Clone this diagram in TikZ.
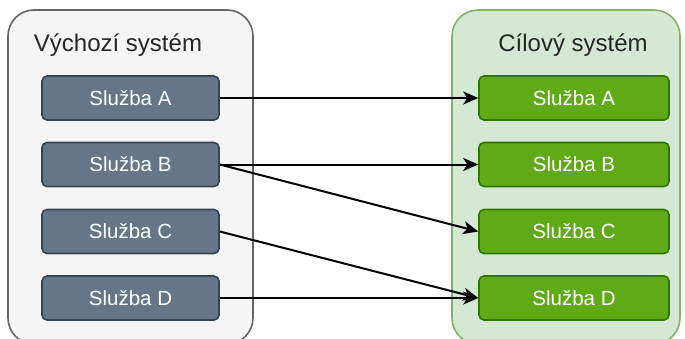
\documentclass[tikz,border=0pt]{standalone}
\usepackage{fontspec}
\setmainfont{Liberation Sans}
\usetikzlibrary{arrows.meta}
\definecolor{contL}{HTML}{F5F5F5}
\definecolor{contLd}{HTML}{666666}
\definecolor{boxL}{HTML}{647687}
\definecolor{boxLd}{HTML}{314354}
\definecolor{contR}{HTML}{D5E8D4}
\definecolor{contRd}{HTML}{82B366}
\definecolor{boxR}{HTML}{60A917}
\definecolor{boxRd}{HTML}{2D7600}
\tikzset{
  container/.style={rounded corners=26pt, line width=1.6pt},
  svc/.style={rounded corners=5pt, line width=1.6pt, minimum width=177pt, minimum height=44pt,
    inner sep=0pt, text=white, font=\fontsize{20.5pt}{24pt}\selectfont},
  svcL/.style={svc, fill=boxL, draw=boxLd},
  svcR/.style={svc, fill=boxR, draw=boxRd, minimum width=190pt},
  title/.style={anchor=base, font=\fontsize{24pt}{28pt}\selectfont, text=black!85},
  link/.style={line width=2pt, -{Stealth[length=15pt,width=13pt,inset=4pt]}}
}
\begin{document}
\begin{tikzpicture}[x=1pt,y=-1pt]
\useasboundingbox (0,0) rectangle (685,338);
\clip (0,0) rectangle (685,338);
\draw[container, fill=contL, draw=contLd] (8,10) rectangle (253,344);
\draw[container, fill=contR, draw=contRd] (452,10) rectangle (680,344);
\node[title] (tl) at (118,51) {Výchozí systém};
\node[title] (tr) at (573,51) {Cílový systém};
\node[svcL] (la) at (130.5,98) {Služba A};
\node[svcL] (lb) at (130.5,164.5) {Služba B};
\node[svcL] (lc) at (130.5,231.5) {Služba C};
\node[svcL] (ld) at (130.5,298) {Služba D};
\node[svcR] (ra) at (574,98) {Služba A};
\node[svcR] (rb) at (574,164.5) {Služba B};
\node[svcR] (rc) at (574,231.5) {Služba C};
\node[svcR] (rd) at (574,298) {Služba D};
\draw[link] (la.east) -- (ra.west);
\draw[link] (lb.east) -- (rb.west);
\draw[link] (lb.east) -- (rc.west);
\draw[link] (lc.east) -- (rd.west);
\draw[link] (ld.east) -- (rd.west);
\end{tikzpicture}
\end{document}
